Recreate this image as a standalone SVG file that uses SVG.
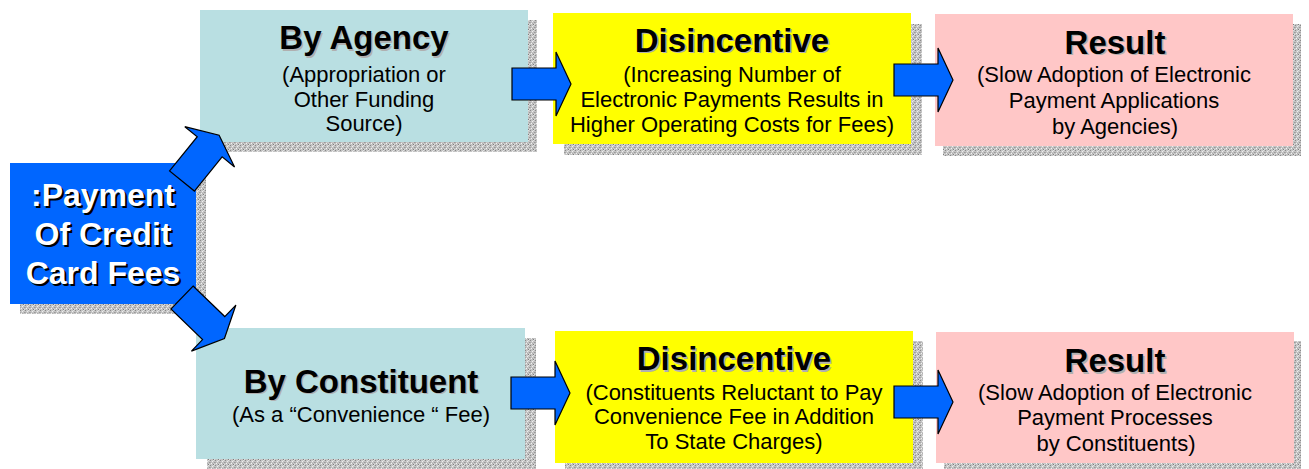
<svg xmlns="http://www.w3.org/2000/svg" width="1309" height="469" viewBox="0 0 1309 469">
<defs>
<pattern id="grain" width="5" height="5" patternUnits="userSpaceOnUse">
<rect width="5" height="5" fill="#c4c4c4"/>
<rect x="0" y="0" width="1" height="1" fill="#8a8a8a"/>
<rect x="2" y="1" width="1" height="1" fill="#eeeeee"/>
<rect x="4" y="2" width="1" height="1" fill="#999999"/>
<rect x="1" y="3" width="1" height="1" fill="#f2f2f2"/>
<rect x="3" y="4" width="1" height="1" fill="#7f7f7f"/>
<rect x="3" y="0" width="1" height="1" fill="#e0e0e0"/>
<rect x="0" y="2" width="1" height="1" fill="#a8a8a8"/>
<rect x="2" y="3" width="1" height="1" fill="#b0b0b0"/>
<rect x="4" y="4" width="1" height="1" fill="#dddddd"/>
</pattern>
<polygon id="arrow" points="0,-16 44,-16 44,-32 59,0 44,32 44,16 0,16"/>
</defs>
<style>
.shadow{fill:url(#grain)}
.teal{fill:#b9dfe2}
.yellow{fill:#ffff00}
.pink{fill:#ffc7c7}
.blue{fill:#0066ff}
.title{font-family:"Liberation Sans",Arial,sans-serif;font-weight:bold;font-size:33px;text-anchor:middle;fill:#000}
.tshadow{font-family:"Liberation Sans",Arial,sans-serif;font-weight:bold;font-size:33px;text-anchor:middle;fill:#b0b0b0}
.sub{font-family:"Liberation Sans",Arial,sans-serif;font-size:22px;text-anchor:middle;fill:#000}
.main{font-family:"Liberation Sans",Arial,sans-serif;font-weight:bold;font-size:32px;text-anchor:middle;fill:#fff}
.mainsh{font-family:"Liberation Sans",Arial,sans-serif;font-weight:bold;font-size:32px;text-anchor:middle;fill:#000}
.arr{fill:#0066ff;stroke:#000;stroke-width:1.2;stroke-linejoin:miter}
</style>
<rect width="1309" height="469" fill="#fff"/>

<g id="payment">
<rect class="shadow" x="20" y="173" width="186" height="141"/>
<rect class="blue" x="10" y="163" width="186" height="141"/>
<text class="mainsh" x="105" y="208">:Payment</text>
<text class="main" x="103" y="206">:Payment</text>
<text class="mainsh" x="105" y="247">Of Credit</text>
<text class="main" x="103" y="245">Of Credit</text>
<text class="mainsh" x="105" y="286">Card Fees</text>
<text class="main" x="103" y="284">Card Fees</text>
</g>

<g id="by-agency">
<rect class="shadow" x="210" y="20" width="327" height="132"/>
<rect class="teal" x="200" y="10" width="328" height="132"/>
<text class="tshadow" x="365.5" y="50.5">By Agency</text>
<text class="title" x="364" y="49">By Agency</text>
<text class="sub" x="364" y="82">(Appropriation or</text>
<text class="sub" x="364" y="107">Other Funding</text>
<text class="sub" x="364" y="131">Source)</text>
</g>

<g id="disincentive-agency">
<rect class="shadow" x="564" y="24" width="358" height="131"/>
<rect class="yellow" x="553" y="13" width="358" height="131"/>
<text class="tshadow" x="733.5" y="53">Disincentive</text>
<text class="title" x="732" y="51.5">Disincentive</text>
<text class="sub" x="732" y="82">(Increasing Number of</text>
<text class="sub" x="732" y="107">Electronic Payments Results in</text>
<text class="sub" x="732" y="132">Higher Operating Costs for Fees)</text>
</g>

<g id="result-agency">
<rect class="shadow" x="943" y="24" width="358" height="132"/>
<rect class="pink" x="935" y="14" width="358" height="132"/>
<text class="tshadow" x="1116.5" y="55">Result</text>
<text class="title" x="1115" y="53.5">Result</text>
<text class="sub" x="1114" y="82">(Slow Adoption of Electronic</text>
<text class="sub" x="1114" y="108">Payment Applications</text>
<text class="sub" x="1115" y="134">by Agencies)</text>
</g>

<g id="by-constituent">
<rect class="shadow" x="207" y="338" width="329" height="131"/>
<rect class="teal" x="196" y="328" width="329" height="131"/>
<text class="tshadow" x="362.5" y="394">By Constituent</text>
<text class="title" x="361" y="392.5">By Constituent</text>
<text class="sub" x="361" y="421.5">(As a “Convenience “ Fee)</text>
</g>

<g id="disincentive-constituent">
<rect class="shadow" x="565" y="341" width="358" height="132"/>
<rect class="yellow" x="555" y="331" width="358" height="132"/>
<text class="tshadow" x="735.5" y="371.5">Disincentive</text>
<text class="title" x="734" y="370">Disincentive</text>
<text class="sub" x="734" y="400">(Constituents Reluctant to Pay</text>
<text class="sub" x="734" y="424">Convenience Fee in Addition</text>
<text class="sub" x="734" y="449">To State Charges)</text>
</g>

<g id="result-constituent">
<rect class="shadow" x="944" y="341" width="357" height="132"/>
<rect class="pink" x="936" y="332" width="358" height="131"/>
<text class="tshadow" x="1116.5" y="373.5">Result</text>
<text class="title" x="1115" y="372">Result</text>
<text class="sub" x="1115" y="400">(Slow Adoption of Electronic</text>
<text class="sub" x="1115" y="425">Payment Processes</text>
<text class="sub" x="1116" y="451">by Constituents)</text>
</g>

<g id="connectors">
<use href="#arrow" class="arr" transform="translate(182,181) rotate(-51)"/>
<use href="#arrow" class="arr" transform="translate(182,297.5) rotate(44)"/>
<use href="#arrow" class="arr" transform="translate(512,84)"/>
<use href="#arrow" class="arr" transform="translate(894,80)"/>
<use href="#arrow" class="arr" transform="translate(511,393)"/>
<use href="#arrow" class="arr" transform="translate(894,402)"/>
</g>
</svg>
